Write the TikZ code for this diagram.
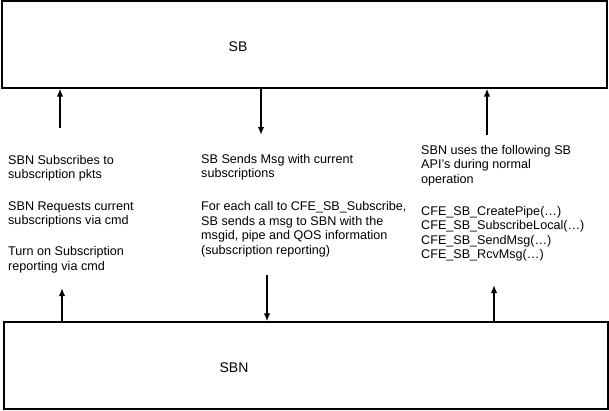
\documentclass[tikz,border=0pt]{standalone}
\usepackage{fontspec}
\setmainfont{Liberation Sans}
\usetikzlibrary{arrows.meta}

\tikzset{
  box/.style={draw, line width=1.2pt, inner sep=0pt},
  title/.style={inner sep=0pt, font=\fontsize{14}{16}\selectfont},
  note/.style={anchor=north west, align=left, inner sep=0pt, font=\fontsize{12.6}{14.6}\selectfont},
  flow/.style={-{Latex[length=8pt,width=6.5pt]}, line width=2pt}
}

\begin{document}
\begin{tikzpicture}[x=1pt,y=-1pt]
    \useasboundingbox (0,0) rectangle (609,410);
    \node[box, minimum width=605pt, minimum height=87pt] (sb) at (304.5,44.5) {};
    \node[title] (sblabel) at (238,47) {SB};
    \node[box, minimum width=604pt, minimum height=87pt] (sbn) at (306,365.5) {};
    \node[title] (sbnlabel) at (234,368) {SBN};
    % texts between the two boxes
    \node[note] (subnote) at (8,155) {SBN Subscribes to\\subscription pkts\\[16.5pt]
      SBN Requests current\\subscriptions via cmd\\[16.5pt]
      Turn on Subscription\\reporting via cmd};
    \node[note] (sendnote) at (201,154) {SB Sends Msg with current\\subscriptions\\[18pt]
      For each call to CFE\_SB\_Subscribe,\\SB sends a msg to SBN with the\\
      msgid, pipe and QOS information\\(subscription reporting)};
    \node[note] (apinote) at (421,145) {SBN uses the following SB\\API's during normal\\operation\\[17pt]
      CFE\_SB\_CreatePipe(…)\\CFE\_SB\_SubscribeLocal(…)\\CFE\_SB\_SendMsg(…)\\CFE\_SB\_RcvMsg(…)};
    % arrow ends
    \coordinate (upl) at (60,128);
    \coordinate (upl2) at (62,288);
    \coordinate (downm) at (261,135);
    \coordinate (downm2) at (267,275);
    \coordinate (upr) at (487,135);
    \coordinate (upr2) at (494,285);
    \draw[flow] (upl) -- (upl |- sb.south);
    \draw[flow] (upl2 |- sbn.north) -- (upl2);
    \draw[flow] (downm |- sb.south) -- (downm);
    \draw[flow] (downm2) -- (downm2 |- sbn.north);
    \draw[flow] (upr) -- (upr |- sb.south);
    \draw[flow] (upr2 |- sbn.north) -- (upr2);
\end{tikzpicture}
\end{document}
